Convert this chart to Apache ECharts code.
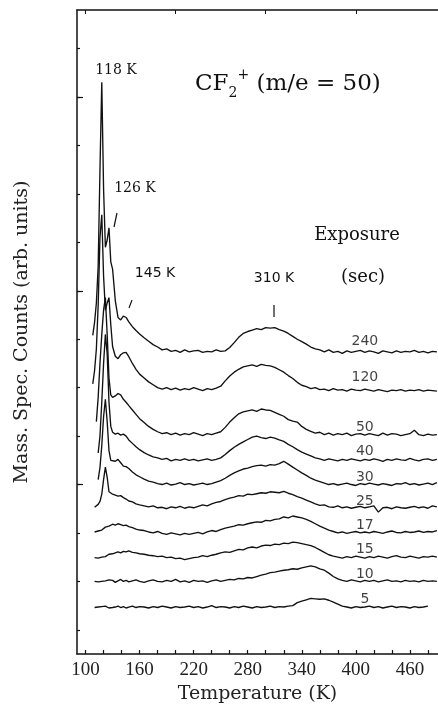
<!DOCTYPE html>
<html><head><meta charset="utf-8">
<script src="https://cdn.jsdelivr.net/npm/echarts@6/dist/echarts.min.js"></script>
<style>html,body{margin:0;padding:0;background:#fff}#c{width:438px;height:709px}</style>
</head><body><div id="c"></div>
<script>
// Temperature grid (K)
const temps = [106,108,110,112,114,116,118,120,122,124,126,128,130,133,136,139,142,145,148,152,156,160,
165,170,175,180,185,190,195,200,205,210,
215,220,225,230,235,240,245,250,255,260,
265,270,275,280,285,290,295,300,305,310,
315,320,325,330,335,340,345,350,355,360,
365,370,375,380,385,390,395,400,405,410,
415,420,425,430,435,440,445,450,455,460,
465,470,475,480,485,490];

// Offset traces (arb. units), one per exposure
const s240 = [null,65.8,68.5,72.5,80.0,100.0,118.1,96.0,84.0,85.5,88.0,81.0,79.5,73.0,69.5,69.0,69.8,69.5,68.6,67.6,66.8,66.1,
65.3,64.6,63.9,63.4,62.8,63.0,62.5,62.7,62.3,62.8,
62.4,62.6,62.7,62.3,62.5,62.4,62.8,62.5,62.6,63.3,
64.3,65.4,66.2,66.6,66.9,67.2,67.0,67.4,67.3,67.4,
67.0,66.7,66.2,65.6,65.0,64.5,64.0,63.4,63.0,62.8,
62.4,62.8,62.3,62.5,62.1,62.6,62.3,62.5,62.7,62.3,
62.6,62.4,62.1,62.6,62.4,62.2,62.6,62.3,62.5,62.4,
62.7,62.3,62.5,62.2,62.5,62.4];
const s120 = [null,55.8,58.5,63.0,72.0,86.0,90.7,78.0,71.0,72.5,73.6,68.0,63.5,61.5,61.0,61.8,62.2,62.3,61.4,60.0,58.8,57.8,
57.0,56.2,55.6,55.0,54.7,55.0,54.6,54.9,54.5,54.8,
54.6,55.0,54.7,54.4,54.8,54.6,54.9,55.3,56.4,57.4,
58.2,58.8,59.3,59.5,59.7,59.4,59.8,59.6,59.5,59.2,
58.7,58.2,57.5,56.9,56.1,55.5,55.2,54.8,55.0,54.6,
54.7,54.4,54.8,54.5,54.6,54.3,54.7,54.5,54.4,54.7,
54.5,54.3,54.6,54.4,54.2,54.5,54.4,54.6,54.3,54.5,
54.4,54.6,54.3,54.5,54.4,54.3];
const s50 = [null,null,null,48.0,53.0,60.0,66.0,71.0,73.6,66.0,57.0,53.5,53.0,53.3,53.8,53.5,52.6,52.0,51.3,50.4,49.5,48.6,
47.8,47.0,46.4,45.9,45.5,45.7,45.3,45.6,45.2,45.5,
45.3,45.7,45.4,45.1,45.5,45.3,45.6,45.9,46.8,47.9,
48.8,49.6,50.0,50.2,50.4,50.1,50.6,50.4,50.3,49.9,
49.5,49.1,48.4,48.1,47.9,47.0,46.4,46.0,45.6,45.8,
45.3,45.6,45.2,45.5,45.3,45.6,45.1,45.4,45.5,45.2,
45.5,45.3,45.1,45.6,45.2,45.5,45.4,45.1,45.3,45.5,
46.2,45.3,45.1,45.4,45.2,45.3];
const s40 = [null,null,null,null,41.5,45.0,52.0,60.0,66.0,62.0,52.0,47.0,45.8,45.4,45.6,45.2,45.4,45.0,44.2,43.5,42.8,42.2,
41.6,41.1,40.7,40.5,40.2,40.4,39.9,40.2,40.0,40.3,
40.0,40.2,39.9,40.1,40.3,40.0,40.2,40.5,41.2,42.0,
42.7,43.3,43.8,44.3,44.8,45.0,44.7,44.5,44.8,44.6,
44.2,43.9,43.3,42.8,42.2,41.7,41.3,40.9,40.5,40.3,
40.0,40.3,40.1,39.9,40.2,40.0,40.3,40.1,39.9,40.2,
40.0,40.3,40.1,39.8,40.2,40.0,40.3,40.1,40.0,40.4,
40.1,39.9,40.2,40.3,40.0,40.2];
const s30 = [null,null,null,null,36.0,38.5,43.0,49.0,52.6,48.0,42.0,40.0,39.6,39.8,40.2,39.5,38.8,38.7,38.3,37.6,37.0,36.6,
36.1,35.7,35.5,35.2,35.0,35.3,34.9,35.1,35.4,35.0,
35.2,34.9,35.1,35.3,35.0,35.2,35.5,35.8,36.3,36.9,
37.4,37.8,38.2,38.4,38.7,38.9,39.0,38.8,39.1,39.0,
39.3,39.8,39.2,38.6,38.0,37.4,36.9,36.3,35.9,35.6,
35.3,35.0,35.2,34.9,35.1,35.3,35.0,34.8,35.2,35.0,
35.3,35.1,34.9,35.2,35.0,34.8,35.2,35.1,35.4,35.0,
35.2,34.9,35.1,35.3,35.0,35.4];
const s25 = [null,null,30.3,30.5,30.9,31.5,33.0,36.0,38.6,36.5,33.5,33.2,33.0,32.8,32.6,32.7,32.3,32.0,31.6,31.4,31.0,30.8,
30.6,30.4,30.6,30.2,30.3,30.0,30.4,30.2,30.5,30.1,
30.4,30.2,30.5,30.8,30.6,31.0,31.3,31.5,31.9,32.2,
32.4,32.7,32.6,33.0,32.9,33.1,33.3,33.2,33.5,33.4,
33.3,33.6,33.2,32.9,32.5,32.2,31.8,31.4,31.0,30.7,
30.8,30.4,30.3,30.6,30.2,30.4,30.1,30.3,30.5,30.2,
30.4,30.6,29.3,30.2,30.3,30.0,30.4,30.2,30.1,30.3,
30.5,30.2,30.4,30.1,30.6,30.4];
const s17 = [null,null,25.2,25.0,25.4,25.3,25.6,25.9,26.2,26.0,26.4,26.6,26.8,26.6,26.9,26.7,26.5,26.6,26.3,26.1,25.8,25.6,
25.5,25.2,25.0,25.3,24.9,24.7,25.0,24.8,24.6,24.9,
24.7,24.9,25.1,24.8,25.2,25.5,25.3,25.7,26.0,26.2,
26.4,26.7,26.6,26.9,27.1,27.3,27.2,27.6,27.5,27.8,
27.9,28.3,28.1,28.5,28.3,28.1,27.8,27.4,26.9,26.4,
26.0,25.6,25.3,25.0,25.2,24.9,25.1,25.3,25.0,25.2,
25.0,25.3,25.1,24.9,25.2,25.4,25.1,25.0,25.3,25.1,
25.2,25.4,25.1,25.3,25.2,25.5];
const s15 = [null,null,19.9,20.1,19.8,20.2,20.0,20.3,20.1,20.4,20.6,20.5,20.7,20.9,21.1,20.9,21.2,21.1,21.3,21.0,20.9,20.7,
20.6,20.4,20.3,20.1,20.2,19.9,20.0,19.7,19.8,19.5,
19.7,19.9,20.0,20.3,20.1,20.4,20.6,20.9,21.1,21.0,
21.3,21.6,21.5,21.9,22.1,21.9,22.3,22.5,22.4,22.7,
22.6,22.9,22.8,23.1,23.0,22.8,22.6,22.4,22.0,21.5,
21.0,20.5,20.2,20.0,19.8,20.1,19.9,20.2,20.0,19.8,
20.1,19.9,20.2,20.0,19.8,20.1,20.3,20.0,19.9,20.2,
20.0,19.8,20.1,20.0,20.2,20.0];
const s10 = [null,null,15.0,15.3,14.9,15.2,15.0,15.4,15.1,14.9,15.3,15.0,15.2,14.8,15.1,15.4,15.0,15.2,14.9,15.1,15.3,15.0,
14.8,15.1,15.3,15.0,14.9,15.2,15.0,15.4,14.9,15.1,
14.8,15.2,15.0,15.1,14.8,15.1,15.3,15.0,15.2,15.4,
15.3,15.6,15.5,15.8,15.7,16.0,16.3,16.5,16.8,16.9,
17.1,17.3,17.4,17.6,17.5,17.8,18.0,18.2,18.0,17.6,
17.3,16.7,16.0,15.5,15.2,15.0,15.3,15.1,14.9,15.2,
15.0,15.2,14.9,15.1,15.3,15.0,15.1,14.9,15.2,15.0,
15.1,14.9,15.2,15.0,15.1,15.0];
const s5 = [null,null,9.6,9.8,9.7,9.5,9.8,9.6,9.9,9.7,9.5,9.8,9.6,9.7,9.9,9.6,9.8,9.5,9.7,9.9,9.6,9.8,
9.7,9.5,9.8,9.6,9.9,9.7,9.5,9.8,9.6,9.7,
9.9,9.6,9.8,9.5,9.7,10.0,9.6,9.8,9.7,9.5,
9.8,9.6,9.9,9.7,9.5,9.8,9.6,9.7,9.9,9.6,
9.8,9.7,9.9,10.0,10.6,10.9,11.2,11.5,11.4,11.3,
11.4,11.1,10.7,10.3,9.9,9.7,9.5,9.8,9.6,9.7,
9.9,9.6,9.8,9.5,9.7,9.9,9.6,9.8,9.7,9.5,
9.8,9.6,9.7,9.9,null,null];

const exposures = ['240','120','50','40','30','25','17','15','10','5'];
const traces = [s240,s120,s50,s40,s30,s25,s17,s15,s10,s5];
const labelTemp = 410;
const labelVals = [64.5,57.1,46.8,41.9,36.5,31.5,26.6,21.6,16.5,11.3];

// Axis ticks
const xTicks = [100,120,140,160,180,200,220,240,260,280,300,320,340,360,380,400,420,440,460,480];
const xLabels = [100,160,220,280,340,400,460];
const topTicks = [100,200,300,400];
const yTicks = [5,15,25,35,45,55,65,75,85,95,105,115,125];
const yMajor = [35,75,115];

const chart = echarts.init(document.getElementById('c'), null, {renderer:'canvas'});
const ink = '#111';
const axisLine = {show:true, onZero:false, lineStyle:{color:ink, width:1.5}};

const series = traces.map((vals, k) => ({
  type:'line', name: exposures[k],
  data: temps.map((t,i) => [t, vals[i]]),
  showSymbol:false, connectNulls:false, clip:true,
  lineStyle:{color:ink, width:1.35}, animation:false, z:3
}));
series.push({
  type:'scatter', symbolSize:0, animation:false, z:5,
  data: exposures.map((e,k) => [labelTemp, labelVals[k], e]),
  label:{show:true, position:'inside', formatter:p => p.value[2],
         fontFamily:'DejaVu Sans', fontSize:14, color:'#111'}
});

const txt = (x, y, text, font, size) => ({
  type:'text', x, y, z:10,
  style:{text, fontFamily:font, fontSize:size, fill:'#111', align:'center', verticalAlign:'middle'}
});

chart.setOption({
  animation:false,
  backgroundColor:'#fff',
  grid:{left:77, right:0, top:10, bottom:54, containLabel:false},
  xAxis:[
    {type:'value', position:'bottom', min:90.5, max:491.2,
     axisLine, axisTick:{show:true, inside:true, length:4, customValues:xTicks, lineStyle:{color:ink, width:1.2}},
     axisLabel:{customValues:xLabels, fontFamily:'Liberation Serif', fontSize:19, color:'#222', margin:7},
     splitLine:{show:false},
     name:'Temperature (K)', nameLocation:'middle', nameGap:31,
     nameTextStyle:{fontFamily:'DejaVu Serif', fontSize:19, color:'#222'}},
    {type:'value', position:'top', min:90.5, max:491.2,
     axisLine, axisTick:{show:true, inside:true, length:4, customValues:topTicks, lineStyle:{color:ink}},
     axisLabel:{show:false}, splitLine:{show:false}}
  ],
  yAxis:[
    {type:'value', position:'left', min:0, max:133,
     axisLine, axisTick:{show:true, inside:true, length:3, customValues:yTicks, lineStyle:{color:ink, width:1.2}},
     axisLabel:{show:false}, splitLine:{show:false},
     name:'Mass. Spec. Counts (arb. units)', nameLocation:'middle', nameGap:45,
     nameTextStyle:{fontFamily:'DejaVu Serif', fontSize:19, color:'#222'}},
    {type:'value', position:'left', min:0, max:133,
     axisLine:{show:false}, axisTick:{show:true, inside:true, length:6, customValues:yMajor, lineStyle:{color:ink, width:1.2}},
     axisLabel:{show:false}, splitLine:{show:false}}
  ],
  graphic:[
    txt(116, 70, '118 K', 'DejaVu Serif', 14),
    txt(135, 188, '126 K', 'DejaVu Serif', 14),
    txt(155, 273, '145 K', 'DejaVu Sans', 14),
    txt(274, 278, '310 K', 'DejaVu Sans', 14),
    txt(357, 235, 'Exposure', 'DejaVu Serif', 18),
    txt(363, 277, '(sec)', 'DejaVu Serif', 18),
    {type:'text', x:195, y:84, z:10,
     style:{text:'{n|CF}{sub|2}{sup|+}{n| (m/e = 50)}', fill:'#111', align:'left', verticalAlign:'middle',
       rich:{
         n:{fontFamily:'DejaVu Serif', fontSize:23, lineHeight:32, fill:'#111'},
         sub:{fontFamily:'DejaVu Serif', fontSize:14, lineHeight:14, verticalAlign:'bottom', fill:'#111'},
         sup:{fontFamily:'DejaVu Serif', fontSize:14, lineHeight:14, verticalAlign:'top', fill:'#111'}
       }}},
    {type:'line', z:10, shape:{x1:117, y1:213, x2:114, y2:227}, style:{stroke:ink, lineWidth:1.2}},
    {type:'line', z:10, shape:{x1:132, y1:300, x2:129, y2:308}, style:{stroke:ink, lineWidth:1.2}},
    {type:'line', z:10, shape:{x1:274, y1:305, x2:274, y2:317}, style:{stroke:ink, lineWidth:1.2}}
  ],
  series
});
</script></body></html>
